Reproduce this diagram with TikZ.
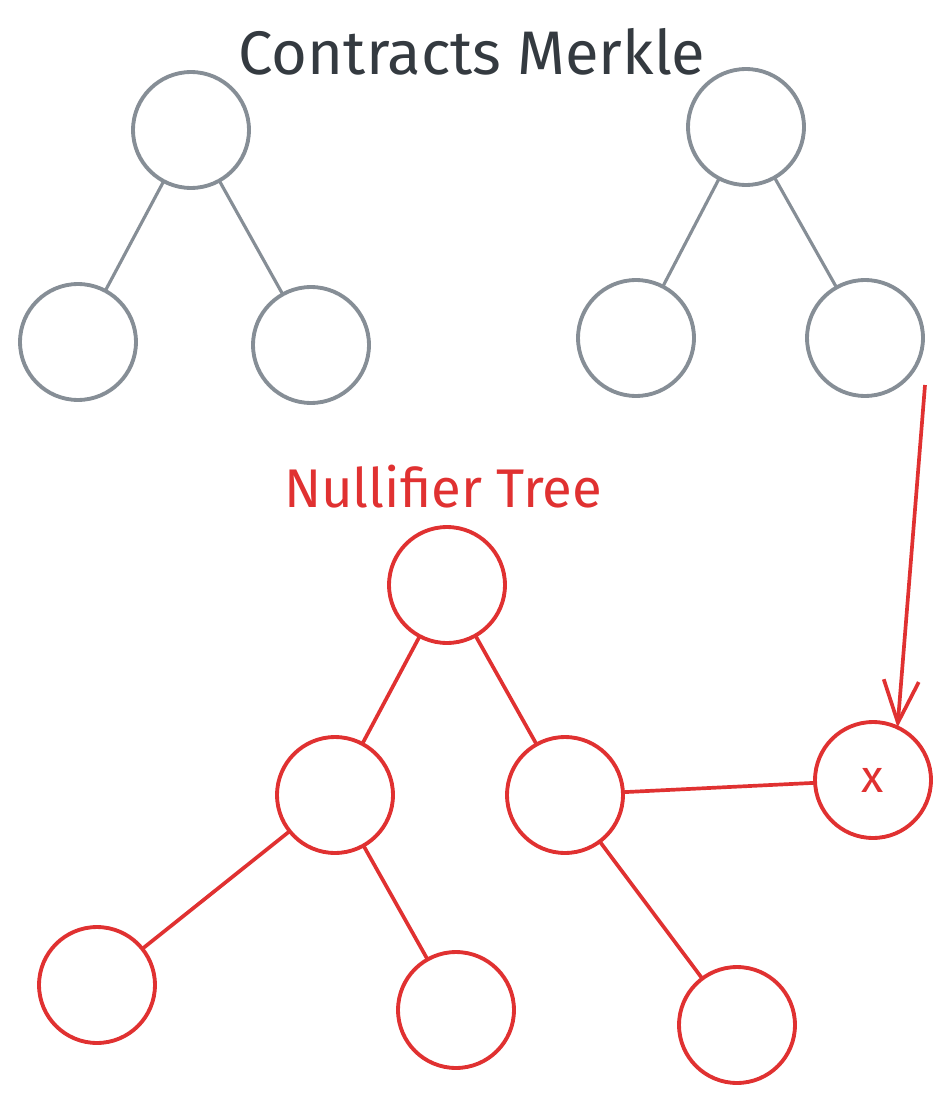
\documentclass[tikz,border=0pt]{standalone}
\usepackage{fontspec}
\setmainfont{Fira Sans}
\usetikzlibrary{arrows.meta}
\definecolor{treegray}{HTML}{868E96}
\definecolor{treered}{HTML}{E03131}
\definecolor{titleink}{HTML}{343A40}
\newcommand{\defaultnodesize}{66pt}
\newcommand{\nodesize}{\defaultnodesize}
\tikzstyle{hashnode}=[draw, circle, line width=2.2pt, inner sep=0, outer sep=0, minimum size=\nodesize]
\tikzstyle{merklenode}=[hashnode, treegray]
\tikzstyle{nullnode}=[hashnode, treered]
\tikzstyle{merkleedge}=[treegray, line width=1.8pt]
\tikzstyle{nulledge}=[treered, line width=2.1pt]
\tikzstyle{treetitle}=[inner sep=0]

\begin{document}
\begin{tikzpicture}[x=0.02cm, y=-0.02cm]
    \useasboundingbox (0, 0) rectangle (951, 1108);
    % contracts merkle trees
    \node[treetitle, titleink, font=\fontsize{35}{42}\selectfont] (merkletitle) at (472, 52) {Contracts Merkle};
    \node[merklenode] (L0) at (191, 130) {};
    \node[merklenode] (L1) at (78, 342) {};
    \node[merklenode] (L2) at (311, 345) {};
    \node[merklenode] (R0) at (746, 127) {};
    \node[merklenode] (R1) at (636, 338) {};
    \node[merklenode] (R2) at (865, 338) {};
    \draw[merkleedge] (L0) -- (L1);
    \draw[merkleedge] (L0) -- (L2);
    \draw[merkleedge] (R0) -- (R1);
    \draw[merkleedge] (R0) -- (R2);
    % nullifier tree
    \node[treetitle, treered, font=\fontsize{31}{37}\selectfont] (nulltitle) at (443, 487) {Nullifier Tree};
    \node[nullnode] (N0) at (447, 585) {};
    \node[nullnode] (N1) at (335, 795) {};
    \node[nullnode] (N2) at (565, 795) {};
    \node[nullnode] (N3) at (97, 985) {};
    \node[nullnode] (N4) at (456, 1010) {};
    \node[nullnode] (N5) at (737, 1025) {};
    \node[nullnode, font=\fontsize{26}{30}\selectfont] (X) at (873, 780) {x};
    \draw[nulledge] (N0) -- (N1);
    \draw[nulledge] (N0) -- (N2);
    \draw[nulledge] (N1) -- (N3);
    \draw[nulledge] (N1) -- (N4);
    \draw[nulledge] (N2) -- (N5);
    \draw[nulledge] (N2) -- (X);
    \coordinate (arrowstart) at (925, 385);
    \draw[nulledge, -{Straight Barb[length=24pt, width=20pt]}] (arrowstart) -- (X.65);
\end{tikzpicture}
\end{document}
